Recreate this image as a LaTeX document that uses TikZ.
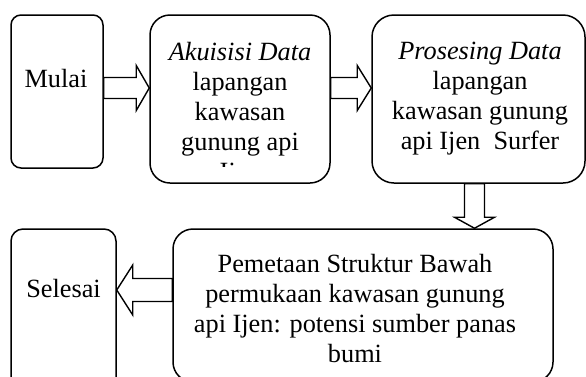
\documentclass[tikz,border=0pt]{standalone}
\usepackage{fontspec}
\setmainfont{Liberation Serif}
\usepackage{tikz}
\usetikzlibrary{calc,positioning}
\tikzstyle{kotak} = [
	draw,
	line width=1.5pt,
	inner sep=0pt
]
\tikzstyle{teks} = [
	align=center,
	anchor=north,
	inner sep=0pt,
	font=\fontsize{26.3}{30}\selectfont
]
\tikzstyle{panah} = [draw, fill=white, line width=1.4pt, line join=miter]

\begin{document}
\begin{tikzpicture}[x=1pt, y=-1pt]
	\useasboundingbox (0,0) rectangle (586,376);
	\clip (0,0) rectangle (586,376);
	% kotak
	\node[kotak, name=mulai, rounded corners=10pt, minimum width=92pt, minimum height=153pt] at (57,91.5) {};
	\node[kotak, name=akuisisi, rounded corners=20pt, minimum width=180pt, minimum height=168pt] at (240,99) {};
	\node[kotak, name=prosesing, rounded corners=22pt, minimum width=213pt, minimum height=168pt] at (478.5,99) {};
	\node[kotak, name=selesai, rounded corners=12pt, minimum width=105pt, minimum height=161pt] at (63.5,309.5) {};
	\node[kotak, name=pemetaan, rounded corners=20pt, minimum width=380pt, minimum height=153pt] at (363,305.5) {};

	% teks
	\node[teks, name=tmulai] at (56,68.7) {Mulai};
	\begin{scope}
		\clip (150,0) rectangle (330,166);
		\node[teks, name=takuisisi] at (240,42) {\textit{Akuisisi Data}\\lapangan\\kawasan\\gunung api\\Ijen};
	\end{scope}
	\node[teks, name=tprosesing] at (480,42) {\textit{Prosesing Data}\\lapangan\\kawasan gunung\\api Ijen\ \ Surfer};
	\node[teks, name=tselesai] at (63.5,279.3) {Selesai};
	\node[teks, name=tpemetaan] at (355,253.7) {Pemetaan Struktur Bawah\\permukaan kawasan gunung\\api Ijen: potensi sumber panas\\bumi};

	% panah blok
	\draw[panah] ($(mulai.east |- 0,88)+(0,-10.5)$) -- ($(akuisisi.west |- 0,88)+(-13,-10.5)$) -- ++(0,-12) -- (akuisisi.west |- 0,88) -- ++(-13,22.5) -- ++(0,-12) -- ($(mulai.east |- 0,88)+(0,10.5)$) -- cycle;
	\draw[panah] ($(akuisisi.east |- 0,88)+(0,-10.5)$) -- ($(prosesing.west |- 0,88)+(-14,-10.5)$) -- ++(0,-12) -- (prosesing.west |- 0,88) -- ++(-14,22.5) -- ++(0,-12) -- ($(akuisisi.east |- 0,88)+(0,10.5)$) -- cycle;
	\draw[panah] ($(prosesing.south -| 474.5,0)+(-10,0)$) -- ($(pemetaan.north -| 474.5,0)+(-10,-11)$) -- ++(-10,0) -- (pemetaan.north -| 474.5,0) -- ++(20,-11) -- ++(-10,0) -- ($(prosesing.south -| 474.5,0)+(10,0)$) -- cycle;
	\draw[panah] ($(pemetaan.west |- 0,290)+(0,-11.5)$) -- ($(selesai.east |- 0,290)+(16,-11.5)$) -- ++(0,-13.5) -- (selesai.east |- 0,290) -- ++(16,25) -- ++(0,-13.5) -- ($(pemetaan.west |- 0,290)+(0,11.5)$) -- cycle;

\end{tikzpicture}
\end{document}
